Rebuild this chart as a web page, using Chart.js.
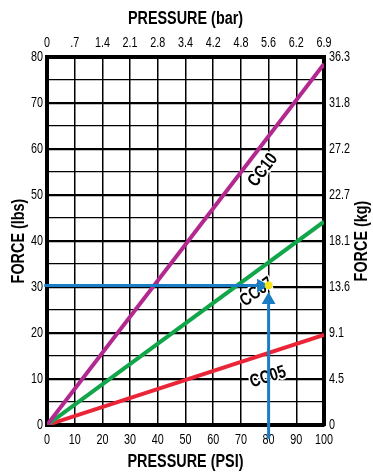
<!DOCTYPE html>
<html><head><meta charset="utf-8">
<script src="https://cdn.jsdelivr.net/npm/chart.js@4"></script>
<style>html,body{margin:0;padding:0;background:#fff}#wrap{width:373px;height:472px}</style>
</head><body><div id="wrap"><canvas id="c" width="373" height="472"></canvas></div>
<script>
// ---- data ----
const barLabels = ['0', '.7', '1.4', '2.1', '2.8', '3.4', '4.2', '4.8', '5.6', '6.2', '6.9'];
const kgLabels = ['0', '4.5', '9.1', '13.6', '18.1', '22.7', '27.2', '31.8', '36.3'];
const pressurePsi = [0, 100];
const forceCC10 = [0, 78.5];
const forceCC07 = [0, 44.2];
const forceCC05 = [0, 19.6];
const seriesNames = ['CC10', 'CC07', 'CC05'];
const nameAtPsi = [78, 75.8, 79.8];
const nameAtLbs = [55.4, 28.9, 10.4];
const guideHPsi = [-1, 77.3];
const guideHLbs = [30.3, 30.3];
const guideVPsi = [80, 80];
const guideVLbs = [-3, 27.2];
const opPsi = [80];
const opLbs = [30.4];

const FONT = '"Liberation Sans", Arial, Helvetica, sans-serif';
const pts = (xs, ys) => xs.map((x, i) => ({x: x, y: ys[i]}));
const seriesData = [forceCC10, forceCC07, forceCC05];
const seriesColors = ['#b3288f', '#12a64a', '#ea2538'];
const BLUE = '#1b7dc3';

// condensed (Helvetica Condensed-like) text rendering on the chart's canvas
const canvas = document.getElementById('c');
const g = canvas.getContext('2d');
const squeeze = f => (/bold/.test(f) ? 0.8 : 0.72);
const oFill = g.fillText.bind(g), oStroke = g.strokeText.bind(g), oMeasure = g.measureText.bind(g);
g.fillText = function (t, x, y, mw) {
  const k = squeeze(this.font); this.save(); this.translate(x, y); this.scale(k, 1);
  if (mw === undefined) oFill(t, 0, 0); else oFill(t, 0, 0, mw / k); this.restore();
};
g.strokeText = function (t, x, y, mw) {
  const k = squeeze(this.font); this.save(); this.translate(x, y); this.scale(k, 1);
  if (mw === undefined) oStroke(t, 0, 0); else oStroke(t, 0, 0, mw / k); this.restore();
};
g.measureText = function (t) {
  const m = oMeasure(t), k = squeeze(this.font);
  return {width: m.width * k, actualBoundingBoxAscent: m.actualBoundingBoxAscent,
    actualBoundingBoxDescent: m.actualBoundingBoxDescent,
    actualBoundingBoxLeft: m.actualBoundingBoxLeft * k, actualBoundingBoxRight: m.actualBoundingBoxRight * k};
};

const overlay = {
  id: 'overlay',
  beforeDatasetsDraw(chart) {
    const ctx = chart.ctx, xs = chart.scales.x, ys = chart.scales.y;
    ctx.save();
    ctx.font = 'bold 18px ' + FONT;
    ctx.textAlign = 'center';
    ctx.textBaseline = 'middle';
    seriesNames.forEach((name, i) => {
      const d = seriesData[i];
      const ang = Math.atan2(ys.getPixelForValue(d[1]) - ys.getPixelForValue(d[0]),
                             xs.getPixelForValue(pressurePsi[1]) - xs.getPixelForValue(pressurePsi[0]));
      ctx.save();
      ctx.translate(xs.getPixelForValue(nameAtPsi[i]), ys.getPixelForValue(nameAtLbs[i]));
      ctx.rotate(ang);
      ctx.lineWidth = 4; ctx.strokeStyle = '#fff'; ctx.lineJoin = 'round';
      ctx.strokeText(name, 0, 0);
      ctx.fillStyle = '#000';
      ctx.fillText(name, 0, 0);
      ctx.restore();
    });
    ctx.restore();
  },
  afterDraw(chart) {
    const ctx = chart.ctx, a = chart.chartArea;
    const cx = (a.left + a.right) / 2, cy = (a.top + a.bottom) / 2;
    ctx.save();
    ctx.fillStyle = '#000';
    ctx.font = 'bold 18px ' + FONT;
    ctx.textAlign = 'center';
    ctx.textBaseline = 'middle';
    ctx.fillText('PRESSURE (bar)', cx, 19);
    ctx.fillText('PRESSURE (PSI)', cx, 462);
    ctx.save(); ctx.translate(19, cy); ctx.rotate(-Math.PI / 2); ctx.fillText('FORCE (lbs)', 0, 0); ctx.restore();
    ctx.save(); ctx.translate(362, cy); ctx.rotate(-Math.PI / 2); ctx.fillText('FORCE (kg)', 0, 0); ctx.restore();
    ctx.restore();
  }
};

const tickFont = {family: FONT, size: 15};
const datasets = seriesNames.map((n, i) => ({
  label: n, data: pts(pressurePsi, seriesData[i]), borderColor: seriesColors[i],
  borderWidth: 4, pointRadius: 0, order: 10, borderCapStyle: 'butt'
}));
datasets.push({label: 'h', data: pts(guideHPsi, guideHLbs), borderColor: BLUE, backgroundColor: BLUE, borderWidth: 3,
  pointStyle: 'triangle', pointRotation: 90, pointRadius: [0, 8], pointBorderWidth: 0, order: 2, clip: false});
datasets.push({label: 'v', data: pts(guideVPsi, guideVLbs), borderColor: BLUE, backgroundColor: BLUE, borderWidth: 3,
  pointStyle: 'triangle', pointRotation: 0, pointRadius: [0, 8], pointBorderWidth: 0, order: 2, clip: false});
datasets.push({label: 'p', data: pts(opPsi, opLbs), backgroundColor: '#f6e61a', borderColor: '#f6e61a', pointRadius: 3.5,
  showLine: false, order: 1});

new Chart(canvas, {
  type: 'line',
  data: {datasets: datasets},
  plugins: [overlay],
  options: {
    responsive: false, animation: false, devicePixelRatio: 1,
    layout: {padding: 0},
    plugins: {legend: {display: false}, tooltip: {enabled: false}},
    scales: {
      x: {type: 'linear', position: 'bottom', min: 0, max: 100,
        afterFit: s => { s.height = 47; },
        ticks: {stepSize: 10, autoSkip: false, maxRotation: 0, color: '#000', font: tickFont, padding: 6},
        grid: {color: '#000', lineWidth: 1.5, drawTicks: false},
        border: {color: '#000', width: 4}},
      x2: {type: 'linear', position: 'top', min: 0, max: 100,
        afterFit: s => { s.height = 57; },
        ticks: {stepSize: 10, autoSkip: false, maxRotation: 0, color: '#000', font: tickFont, padding: 5,
          callback: (v, i) => barLabels[i]},
        grid: {display: false, drawTicks: false},
        border: {color: '#000', width: 4}},
      y: {type: 'linear', position: 'left', min: 0, max: 80,
        afterFit: s => { s.width = 47; },
        ticks: {stepSize: 5, autoSkip: false, color: '#000', font: tickFont, padding: 4,
          callback: v => (v % 10 === 0 ? String(v) : '')},
        grid: {color: '#000', drawTicks: false, lineWidth: c => (c.tick && c.tick.value % 10 === 0 ? 2.2 : 1.3)},
        border: {color: '#000', width: 4}},
      y2: {type: 'linear', position: 'right', min: 0, max: 80,
        afterFit: s => { s.width = 49; },
        ticks: {stepSize: 10, autoSkip: false, color: '#000', font: tickFont, padding: 5,
          callback: (v, i) => kgLabels[i]},
        grid: {display: false, drawTicks: false},
        border: {color: '#000', width: 4}}
    }
  }
});
</script>
</body></html>
